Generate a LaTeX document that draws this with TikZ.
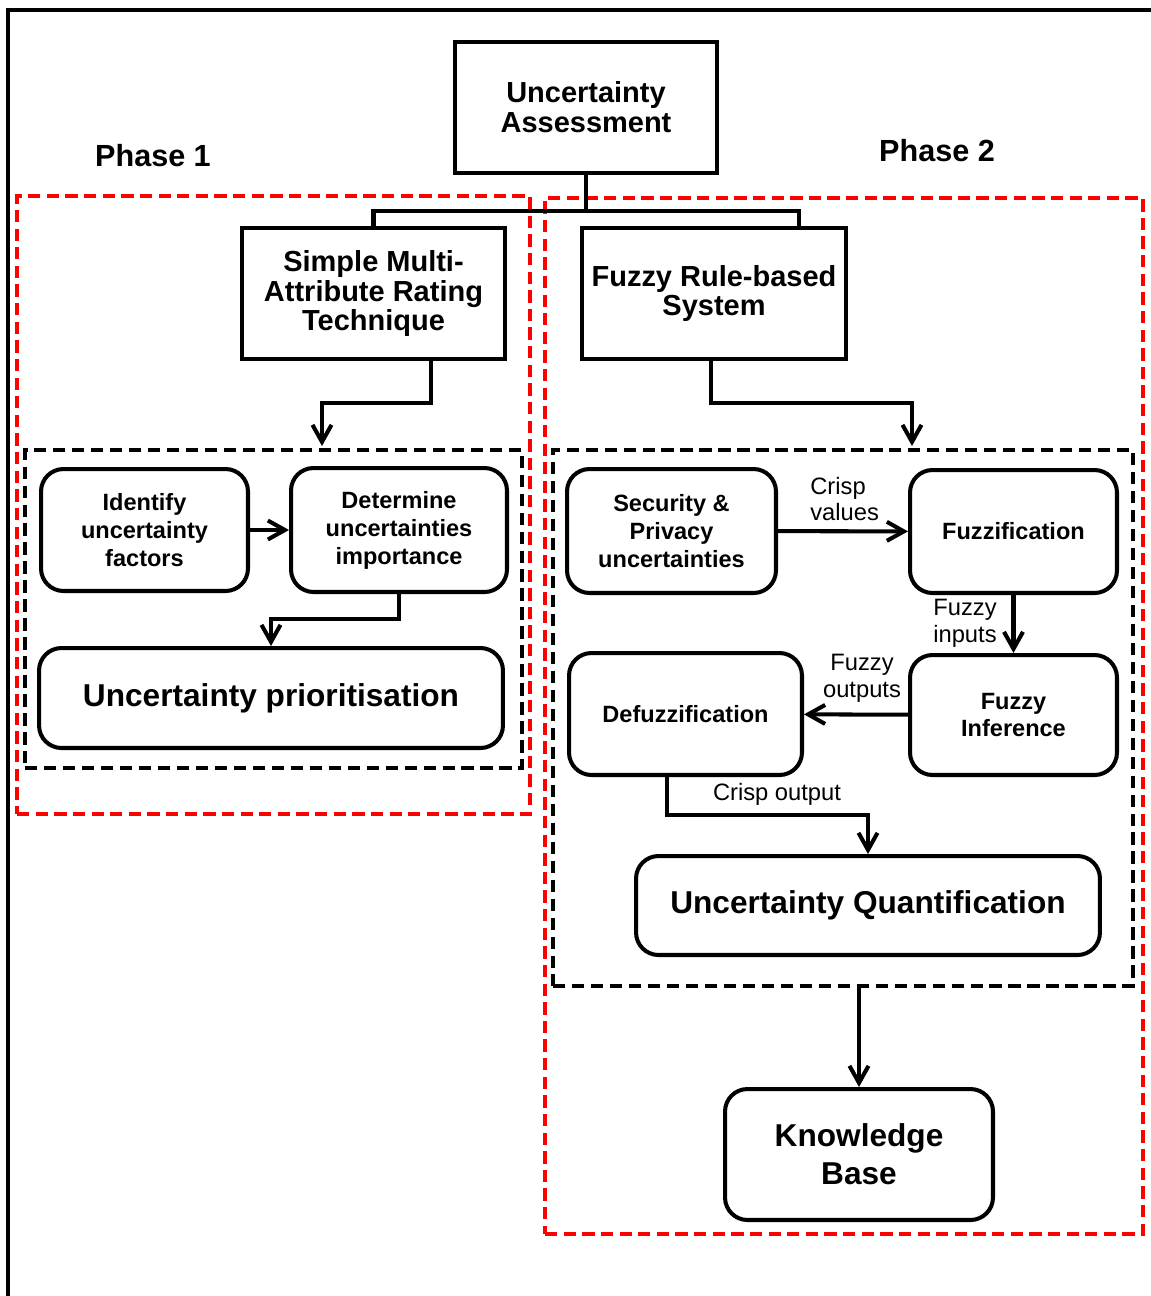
\documentclass[tikz,border=0pt]{standalone}
\usepackage{fontspec}
\setmainfont{Liberation Sans}
\usetikzlibrary{arrows.meta}

\tikzset{
  box/.style={draw, line width=2.3pt, align=center, inner sep=0pt, font=\bfseries\fontsize{16.5}{17}\selectfont},
  rbox/.style={draw, line width=2.3pt, rounded corners=0.45cm, align=center, inner sep=0pt, font=\bfseries\fontsize{13.4}{15.9}\selectfont},
  bigbox/.style={rbox, font=\bfseries\fontsize{18}{21.5}\selectfont},
  phase/.style={inner sep=0pt, font=\bfseries\fontsize{17.4}{20}\selectfont},
  lbl/.style={inner sep=0pt, font=\fontsize{13.5}{15.3}\selectfont},
  reddash/.style={draw=red, line width=2.6pt, dash pattern=on 7pt off 3.6pt, inner sep=0pt},
  blkdash/.style={draw, line width=2.6pt, dash pattern=on 7pt off 3.8pt, inner sep=0pt},
  arr/.style={line width=2.3pt, -{Straight Barb[length=3.4mm,width=3.8mm]}},
  link/.style={line width=2.3pt}
}

\begin{document}
\begin{tikzpicture}[x=0.02cm, y=-0.02cm]
\useasboundingbox (0,0) rectangle (1151,1296);

% outer frame
\draw[line width=2.4pt] (8,1296) -- (8,10) -- (1151,10);

% phase groups
\node[reddash, minimum width=10.26cm, minimum height=12.36cm] (ph1) at (273.5,505) {};
\node[reddash, minimum width=11.96cm, minimum height=20.72cm] (ph2) at (844,716) {};
\node[blkdash, minimum width=9.94cm, minimum height=6.36cm] (grp1) at (273.5,609) {};
\node[blkdash, minimum width=11.6cm, minimum height=10.72cm] (grp2) at (843,718) {};

\node[phase] (p1) at (153,156) {Phase 1};
\node[phase] (p2) at (937,151) {Phase 2};

% top level
\node[box, minimum width=5.24cm, minimum height=2.62cm] (ua) at (586,107.5) {Uncertainty\\Assessment};
\node[box, minimum width=5.26cm, minimum height=2.62cm] (smart) at (373.5,293.5) {Simple Multi-\\Attribute Rating\\Technique};
\node[box, minimum width=5.28cm, minimum height=2.62cm] (frs) at (714,293.5) {Fuzzy Rule-based\\System};

% phase 1
\node[rbox, minimum width=4.14cm, minimum height=2.44cm] (ident) at (144.5,530) {Identify\\uncertainty\\factors};
\node[rbox, minimum width=4.32cm, minimum height=2.48cm] (det) at (399,530) {Determine\\uncertainties\\importance};
\node[bigbox, minimum width=9.28cm, minimum height=2cm] (prio) at (271,698) {Uncertainty prioritisation};

% phase 2
\node[rbox, minimum width=4.18cm, minimum height=2.48cm] (sec) at (671.5,531) {Security \&\\Privacy\\uncertainties};
\node[rbox, minimum width=4.14cm, minimum height=2.46cm] (fuzz) at (1013.5,531.5) {Fuzzification};
\node[rbox, minimum width=4.14cm, minimum height=2.4cm] (finf) at (1013.5,715) {Fuzzy\\Inference};
\node[rbox, minimum width=4.66cm, minimum height=2.44cm] (defuzz) at (685.5,714) {Defuzzification};
\node[bigbox, minimum width=9.28cm, minimum height=1.98cm] (uq) at (868,905.5) {Uncertainty Quantification};
\node[bigbox, minimum width=5.36cm, minimum height=2.62cm] (kb) at (859,1154.5) {Knowledge\\Base};

% labels
\node[lbl, anchor=west, align=left] (l1) at (810,499) {Crisp\\values};
\node[lbl, anchor=west, align=left] (l2) at (933,623.5) {Fuzzy\\inputs};
\node[lbl, align=center] (l3) at (862,678.5) {Fuzzy\\outputs};
\node[lbl] (l4) at (777,794) {Crisp output};

\coordinate (in1) at (322,446);
\coordinate (in2) at (912,446);

% connectors
\draw[link] (ua.south) -- ++(0,36) -| (smart.north);
\draw[link] (ua.south) -- ++(0,36) -| ([xshift=1.7cm]frs.north);
\draw[arr] ([xshift=1.15cm]smart.south) -- ++(0,42) -| (in1);
\draw[arr] ([xshift=-0.06cm]frs.south) -- ++(0,42) -| (in2);

\draw[arr] (ident) -- (det);
\draw[arr] (det.south) -- ++(0,25) -| (prio.north);

\draw[arr] (sec) -- (fuzz);
\draw[arr] (fuzz) -- (finf);
\draw[arr] (finf) -- (defuzz);
\draw[arr] ([xshift=-0.37cm]defuzz.south) -- ++(0,38) -| (uq.north);
\draw[arr] (grp2.south -| kb.north) -- (kb.north);

\end{tikzpicture}
\end{document}
